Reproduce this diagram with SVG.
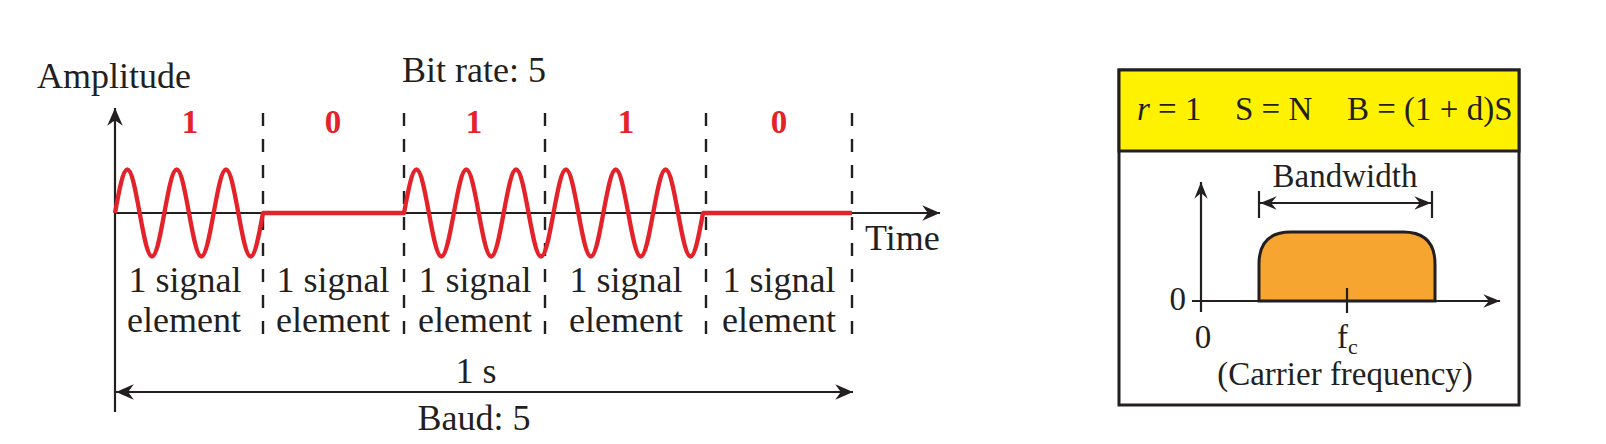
<svg xmlns="http://www.w3.org/2000/svg" width="1606" height="444" viewBox="0 0 1606 444">
<style>
text{font-family:"Liberation Serif","Times New Roman",serif;fill:#231f20}
.t36{font-size:36px}
.t33{font-size:33px}
.bit{font-size:33px;font-weight:bold;fill:#e3222a;text-anchor:middle}
.mid{text-anchor:middle}
.ax{stroke:#231f20;stroke-width:2.2;fill:none}
.dash{stroke:#231f20;stroke-width:2.4;stroke-dasharray:13 13;fill:none}
.wave{stroke:#e3222a;stroke-width:4.3;fill:none;stroke-linejoin:round}
</style>
<defs>
<marker id="arr" markerUnits="userSpaceOnUse" markerWidth="20" markerHeight="20" viewBox="-17 -8 18 16" refX="0" refY="0" orient="auto-start-reverse">
<path d="M0,0 L-16,-7 L-11,0 L-16,7 Z" fill="#231f20"/>
</marker>
<marker id="arrs" markerUnits="userSpaceOnUse" markerWidth="20" markerHeight="20" viewBox="-17 -8 18 16" refX="0" refY="0" orient="auto-start-reverse">
<path d="M0,0 L-15,-6 L-10,0 L-15,6 Z" fill="#231f20"/>
</marker>
</defs>

<g id="labels-left">
<text class="t36" x="37" y="88">Amplitude</text>
<text class="t36" x="402" y="82">Bit rate: 5</text>
<text class="t36" x="865" y="250">Time</text>
<text class="t36 mid" x="476" y="383">1 s</text>
<text class="t36 mid" x="474" y="430">Baud: 5</text>
</g>

<g id="bits">
<text class="bit" x="190" y="133">1</text>
<text class="bit" x="333" y="133">0</text>
<text class="bit" x="474" y="133">1</text>
<text class="bit" x="626" y="133">1</text>
<text class="bit" x="779" y="133">0</text>
</g>

<g id="element-labels">
<text class="t36 mid" x="185" y="292">1 signal</text>
<text class="t36 mid" x="184" y="332">element</text>
<text class="t36 mid" x="333" y="292">1 signal</text>
<text class="t36 mid" x="333" y="332">element</text>
<text class="t36 mid" x="475" y="292">1 signal</text>
<text class="t36 mid" x="475" y="332">element</text>
<text class="t36 mid" x="626" y="292">1 signal</text>
<text class="t36 mid" x="626" y="332">element</text>
<text class="t36 mid" x="779" y="292">1 signal</text>
<text class="t36 mid" x="779" y="332">element</text>
</g>

<g id="connectors">
<line class="dash" x1="263" y1="113" x2="263" y2="340"/>
<line class="dash" x1="404" y1="113" x2="404" y2="340"/>
<line class="dash" x1="545" y1="113" x2="545" y2="340"/>
<line class="dash" x1="706" y1="113" x2="706" y2="340"/>
<line class="dash" x1="852" y1="113" x2="852" y2="340"/>
<line class="ax" x1="115" y1="412" x2="115" y2="108" marker-end="url(#arr)"/>
<line class="ax" x1="115" y1="213" x2="940" y2="213" marker-end="url(#arr)"/>
<line class="ax" x1="116" y1="392" x2="853" y2="392" marker-start="url(#arr)" marker-end="url(#arr)"/>
</g>

<g id="signal">
<path class="wave" d="M115,213
c 4.022,-22.25 7.870,-43.5 12.333,-43.5
s 8.311,21.25 12.333,43.5 s 7.870,43.5 12.333,43.5 s 8.311,-21.25 12.333,-43.5
s 7.870,-43.5 12.333,-43.5 s 8.311,21.25 12.333,43.5 s 7.870,43.5 12.333,43.5 s 8.311,-21.25 12.333,-43.5
s 7.870,-43.5 12.333,-43.5 s 8.311,21.25 12.333,43.5 s 7.870,43.5 12.333,43.5 s 8.311,-21.25 12.333,-43.5
L404,213
c 4.063,-22.25 7.949,-43.5 12.458,-43.5
s 8.395,21.25 12.458,43.5 s 7.949,43.5 12.458,43.5 s 8.395,-21.25 12.458,-43.5
s 7.949,-43.5 12.458,-43.5 s 8.395,21.25 12.458,43.5 s 7.949,43.5 12.458,43.5 s 8.395,-21.25 12.458,-43.5
s 7.949,-43.5 12.458,-43.5 s 8.395,21.25 12.458,43.5 s 7.949,43.5 12.458,43.5 s 8.395,-21.25 12.458,-43.5
s 7.949,-43.5 12.458,-43.5 s 8.395,21.25 12.458,43.5 s 7.949,43.5 12.458,43.5 s 8.395,-21.25 12.458,-43.5
s 7.949,-43.5 12.458,-43.5 s 8.395,21.25 12.458,43.5 s 7.949,43.5 12.458,43.5 s 8.395,-21.25 12.458,-43.5
s 7.949,-43.5 12.458,-43.5 s 8.395,21.25 12.458,43.5 s 7.949,43.5 12.458,43.5 s 8.395,-21.25 12.458,-43.5
L852,213"/>
</g>

<g id="spectrum-panel">
<rect x="1119" y="70" width="400" height="335" fill="#ffffff" stroke="#231f20" stroke-width="3"/>
<rect x="1119" y="70" width="400" height="81" fill="#fff200" stroke="#231f20" stroke-width="3"/>
<text class="t33" x="1137" y="120"><tspan font-style="italic">r</tspan> = 1</text>
<text class="t33" x="1235" y="120">S = N</text>
<text class="t33" x="1347" y="120">B = (1 + d)S</text>
</g>

<g id="spectrum">
<path d="M1259,301 L1259,264 Q1259,232 1291,232 L1403,232 Q1435,232 1435,264 L1435,301 Z" fill="#f7a531" stroke="#231f20" stroke-width="3"/>
<line class="ax" x1="1347" y1="288" x2="1347" y2="313"/>
<line class="ax" x1="1192" y1="301" x2="1500" y2="301" marker-end="url(#arrs)"/>
<line class="ax" x1="1201" y1="312" x2="1201" y2="182" marker-end="url(#arrs)"/>
<line class="ax" x1="1259" y1="191" x2="1259" y2="218"/>
<line class="ax" x1="1432" y1="191" x2="1432" y2="218"/>
<line class="ax" x1="1260" y1="203" x2="1431" y2="203" marker-start="url(#arrs)" marker-end="url(#arrs)"/>
<text class="t33 mid" x="1345" y="187">Bandwidth</text>
<text class="t33" x="1186" y="310" text-anchor="end">0</text>
<text class="t33 mid" x="1203" y="348">0</text>
<text class="t33" x="1337" y="348">f<tspan font-size="22" dy="6">c</tspan></text>
<text class="t33 mid" x="1345" y="385">(Carrier frequency)</text>
</g>
</svg>
